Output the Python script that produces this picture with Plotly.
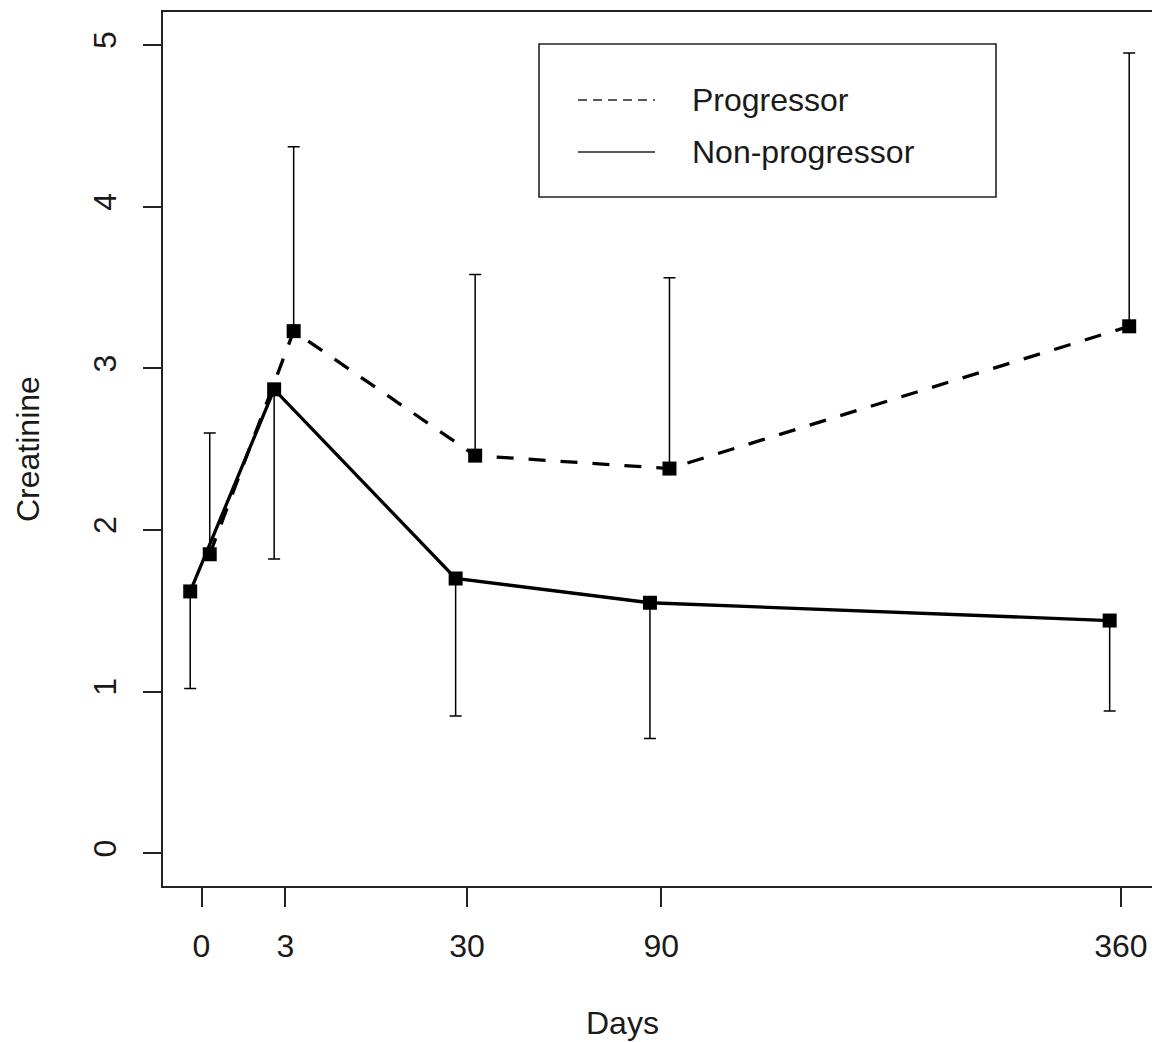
import numpy as np
import plotly.graph_objects as go

# ---- data ----
days = [0, 3, 30, 90, 360]
tick_labels = ["0", "3", "30", "90", "360"]
y_ticks = [0, 1, 2, 3, 4, 5]

prog_mean = [1.85, 3.23, 2.46, 2.38, 3.26]
prog_upper = [2.60, 4.37, 3.58, 3.56, 4.95]

nonprog_mean = [1.62, 2.87, 1.70, 1.55, 1.44]
nonprog_lower = [1.02, 1.82, 0.85, 0.71, 0.88]

# ---- style / layout constants ----
W, H = 1152, 1042
L, R, T, B = 163, 1152, 12, 886
PROG_SHIFT = 0.17
NONPROG_SHIFT = -0.233
FONT = "Liberation Sans, Arial, sans-serif"
TXT = "#1a1a1a"

xs = np.sqrt(np.array(days, dtype=float))
x_prog = xs + PROG_SHIFT
x_non = xs + NONPROG_SHIFT

err_plus = (np.array(prog_upper) - np.array(prog_mean)).tolist()
err_minus = (np.array(nonprog_mean) - np.array(nonprog_lower)).tolist()

fig = go.Figure()

fig.add_trace(go.Scatter(
    x=x_non, y=nonprog_mean, mode="lines+markers", name="Non-progressor",
    line=dict(color="black", width=3.3),
    marker=dict(symbol="square", size=14, color="black"),
    error_y=dict(type="data", symmetric=False, array=[0] * len(days),
                 arrayminus=err_minus, color="black", thickness=1.5, width=6),
    showlegend=False,
))
fig.add_trace(go.Scatter(
    x=x_prog, y=prog_mean, mode="lines+markers", name="Progressor",
    line=dict(color="black", width=3.3, dash="17px,15px"),
    marker=dict(symbol="square", size=14, color="black"),
    error_y=dict(type="data", symmetric=False, array=err_plus,
                 arrayminus=[0] * len(days), color="black", thickness=1.5, width=6),
    showlegend=False,
))

px_per_unit = 48.46
x0_px = 201.5
xmin = (L - x0_px) / px_per_unit
xmax = (R - x0_px) / px_per_unit

def px(xp):
    return (xp - L) / (R - L)

def py(yp):
    return (B - yp) / (B - T)

fig.update_layout(
    width=W, height=H,
    margin=dict(l=L, r=W - R, t=T, b=H - B, pad=0),
    plot_bgcolor="white", paper_bgcolor="white",
    font=dict(family=FONT, size=32, color=TXT),
    xaxis=dict(
        range=[xmin, xmax], tickmode="array", tickvals=xs.tolist(), ticktext=tick_labels,
        showgrid=False, zeroline=False, showline=True, mirror=True,
        linecolor="#222", linewidth=1.6, ticks="outside", ticklen=19, tickwidth=1.6,
        tickcolor="#222", ticklabelstandoff=12,
    ),
    yaxis=dict(
        range=[-0.202, 5.204], tickmode="array", tickvals=y_ticks,
        ticktext=[str(v) for v in y_ticks], tickangle=-90,
        showgrid=False, zeroline=False, showline=True, mirror=False,
        linecolor="#222", linewidth=1.6, ticks="outside", ticklen=18, tickwidth=1.6,
        tickcolor="#222", ticklabelstandoff=14,
    ),
)

# axis titles
fig.add_annotation(text="Days", x=px(622), y=py(1023), xref="paper", yref="paper",
                   showarrow=False, xanchor="center", yanchor="middle")
fig.add_annotation(text="Creatinine", x=px(28), y=py(449), xref="paper", yref="paper",
                   showarrow=False, xanchor="center", yanchor="middle", textangle=-90)

# legend box
fig.add_shape(type="rect", xref="paper", yref="paper",
              x0=px(539), x1=px(996), y0=py(197), y1=py(44),
              line=dict(color="#222", width=1.6), fillcolor="white", layer="above")
fig.add_shape(type="line", xref="paper", yref="paper",
              x0=px(578), x1=px(655), y0=py(100), y1=py(100),
              line=dict(color="#222", width=1.6, dash="9px,6px"))
fig.add_shape(type="line", xref="paper", yref="paper",
              x0=px(578), x1=px(655), y0=py(152), y1=py(152),
              line=dict(color="#222", width=1.6))
fig.add_annotation(text="Progressor", x=px(690), y=py(100), xref="paper", yref="paper",
                   showarrow=False, xanchor="left", yanchor="middle")
fig.add_annotation(text="Non-progressor", x=px(690), y=py(152), xref="paper", yref="paper",
                   showarrow=False, xanchor="left", yanchor="middle")

fig.write_html(
    "out.html",
    config={"displayModeBar": False},
    post_script="document.body.style.margin='0px';document.body.style.overflow='hidden';",
)
